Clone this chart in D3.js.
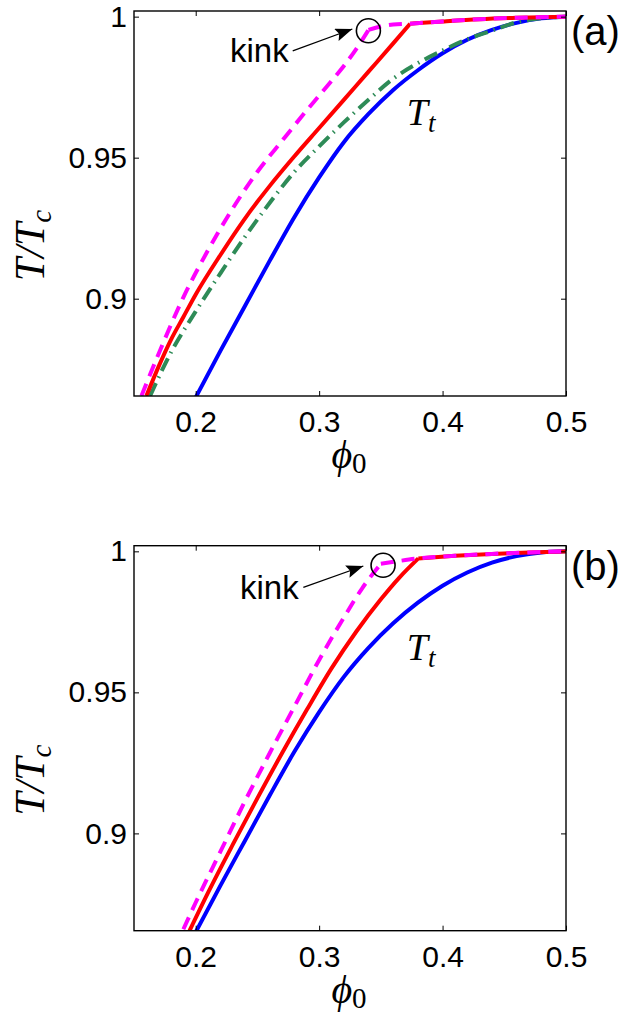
<!DOCTYPE html>
<html>
<head>
<meta charset="utf-8">
<script src="https://cdn.jsdelivr.net/npm/d3@7"></script>
<style>
body { margin: 0; background: #fff; }
</style>
</head>
<body>
<svg id="chart" width="641" height="1019"></svg>
<script>
// values, [phi0, T/Tc]
var blueA = [[0.20,0.865],[0.22,0.8815],[0.24,0.8975],[0.26,0.9135],[0.28,0.929],[0.30,0.943],[0.32,0.9555],[0.34,0.9655],[0.36,0.974],[0.38,0.981],[0.40,0.987],[0.42,0.9918],[0.44,0.9953],[0.46,0.9978],[0.48,0.9994],[0.50,1.0]];
var greenA = [[0.163,0.8655],[0.18,0.881],[0.20,0.8955],[0.22,0.909],[0.24,0.922],[0.26,0.934],[0.28,0.945],[0.30,0.954],[0.32,0.9625],[0.34,0.9705],[0.36,0.978],[0.38,0.9835],[0.40,0.988],[0.42,0.992],[0.44,0.995],[0.46,0.998],[0.48,0.9994],[0.50,1.0]];
var redA = [[0.16,0.8655],[0.17,0.876],[0.18,0.8855],[0.19,0.8935],[0.20,0.9015],[0.22,0.9155],[0.24,0.9285],[0.26,0.940],[0.28,0.9505],[0.30,0.9605],[0.32,0.9705],[0.34,0.9805],[0.36,0.9905],[0.3737,0.9975],[0.40,0.9983],[0.43,0.9991],[0.46,0.9996],[0.50,1.0]];
var magentaA = [[0.156,0.8655],[0.17,0.8805],[0.19,0.9005],[0.21,0.9172],[0.23,0.932],[0.25,0.945],[0.27,0.956],[0.29,0.9668],[0.30,0.972],[0.31,0.9772],[0.32,0.9825],[0.33,0.9885],[0.34,0.9953],[0.35,0.9965],[0.36,0.9972],[0.3737,0.9975],[0.40,0.9983],[0.43,0.9991],[0.46,0.9996],[0.50,1.0]];

var blueB = [[0.20,0.865],[0.22,0.8815],[0.24,0.8975],[0.26,0.9135],[0.28,0.929],[0.30,0.943],[0.32,0.9555],[0.34,0.9658],[0.36,0.9745],[0.38,0.9818],[0.40,0.9878],[0.42,0.9925],[0.44,0.996],[0.46,0.9983],[0.48,0.9996],[0.50,1.0]];
var redB = [[0.195,0.8655],[0.21,0.879],[0.23,0.896],[0.25,0.9125],[0.27,0.9285],[0.29,0.9438],[0.31,0.9585],[0.33,0.9715],[0.35,0.983],[0.365,0.9907],[0.3804,0.9975],[0.41,0.9984],[0.44,0.9991],[0.47,0.9996],[0.50,1.0]];
var magentaB = [[0.19,0.866],[0.20,0.8755],[0.22,0.8935],[0.24,0.9115],[0.26,0.9285],[0.28,0.945],[0.30,0.9615],[0.32,0.9765],[0.335,0.987],[0.35,0.9956],[0.365,0.9966],[0.3804,0.9975],[0.41,0.9984],[0.44,0.9991],[0.47,0.9996],[0.50,1.0]];

// phi0 where a curve has a sharp corner
var redCorner = [0.3737, 0.3804];
var magentaCorner = [0.34, 0.35];

// annotations per panel (a), (b)
var kinkCircle = [[0.3399,0.9950],[0.3518,0.99505]];
var kinkArrowFrom = [[0.2786,0.9879],[0.2872,0.98725]];
var kinkArrowTo = [[0.3269,0.99562],[0.3358,0.9948]];
var kinkText = [[0.2278,0.9839],[0.2359,0.9830]];
var ttLabel = [[0.371,0.9616],[0.371,0.9615]];
var panelLabels = ["(a)", "(b)"];

var xTicks = [0.2, 0.3, 0.4, 0.5];
var xTickLabels = ["0.2", "0.3", "0.4", "0.5"];
var yTicks = [0.9, 0.95, 1];
var yTickLabels = ["0.9", "0.95", "1"];

var xDomain = [0.15, 0.5];
var yDomain = [0.8655, 1.002];

var plotLeft = 134, plotRight = 566, plotHeight = 385;
var panelTops = [11, 545.7];
var sansFont = "'Liberation Sans', Arial, Helvetica, sans-serif";
var serifFont = "'Liberation Serif', 'Times New Roman', 'DejaVu Serif', serif";

var svg = d3.select("#chart");
var defs = svg.append("defs");
defs.append("marker")
    .attr("id", "arrowhead")
    .attr("markerUnits", "userSpaceOnUse")
    .attr("markerWidth", 18)
    .attr("markerHeight", 14)
    .attr("refX", 17)
    .attr("refY", 6.5)
    .attr("orient", "auto")
    .append("path")
    .attr("d", "M0,0 L17,6.5 L0,13 L3,6.5 Z")
    .attr("fill", "black");

// cut a curve at its corner so the smoothing keeps the corner sharp
function splitAt(data, corner) {
    if (corner == null) return [data];
    var left = data.filter((d) => d[0] <= corner);
    var right = data.filter((d) => d[0] >= corner);
    return [left, right];
}

function drawPanel(idx, series) {
    var top = panelTops[idx];
    var bottom = top + plotHeight;
    var x = d3.scaleLinear().domain(xDomain).range([plotLeft, plotRight]);
    var y = d3.scaleLinear().domain(yDomain).range([bottom, top]);
    var g = svg.append("g");

    defs.append("clipPath")
        .attr("id", "clip" + idx)
        .append("rect")
        .attr("x", plotLeft)
        .attr("y", top)
        .attr("width", plotRight - plotLeft)
        .attr("height", plotHeight);

    var line = d3.line()
        .x((d) => { return x(d[0]); })
        .y((d) => { return y(d[1]); })
        .curve(d3.curveMonotoneX);

    var curves = g.append("g").attr("clip-path", "url(#clip" + idx + ")");
    series.forEach((s) => {
        var d = splitAt(s.data, s.corner).map((p) => line(p)).join("");
        curves.append("path")
            .attr("d", d)
            .attr("fill", "none")
            .attr("stroke", s.color)
            .attr("stroke-width", 4)
            .attr("stroke-dasharray", s.dash || null);
    });

    // ticks point inward on all four sides
    var bottomAxis = g.append("g")
        .attr("transform", `translate(0,${bottom})`)
        .call(d3.axisBottom(x).tickValues(xTicks).tickSize(-5).tickPadding(15)
            .tickFormat((d, i) => xTickLabels[i]));
    var leftAxis = g.append("g")
        .attr("transform", `translate(${plotLeft},0)`)
        .call(d3.axisLeft(y).tickValues(yTicks).tickSize(-5).tickPadding(7)
            .tickFormat((d, i) => yTickLabels[i]));
    var topAxis = g.append("g")
        .attr("transform", `translate(0,${top})`)
        .call(d3.axisTop(x).tickValues(xTicks).tickSize(-5).tickFormat(""));
    var rightAxis = g.append("g")
        .attr("transform", `translate(${plotRight},0)`)
        .call(d3.axisRight(y).tickValues(yTicks).tickSize(-5).tickFormat(""));

    [bottomAxis, leftAxis, topAxis, rightAxis].forEach((a) => {
        a.select(".domain").remove();
        a.selectAll(".tick line").attr("stroke", "black").attr("stroke-width", 1);
        a.attr("font-size", 30).attr("font-family", sansFont);
        a.selectAll(".tick text").attr("fill", "black");
    });

    g.append("rect")
        .attr("x", plotLeft)
        .attr("y", top)
        .attr("width", plotRight - plotLeft)
        .attr("height", plotHeight)
        .attr("fill", "none")
        .attr("stroke", "black")
        .attr("stroke-width", 1.4);

    // kink annotation
    g.append("circle")
        .attr("cx", x(kinkCircle[idx][0]))
        .attr("cy", y(kinkCircle[idx][1]))
        .attr("r", 12)
        .attr("fill", "none")
        .attr("stroke", "black")
        .attr("stroke-width", 1.6);
    g.append("line")
        .attr("x1", x(kinkArrowFrom[idx][0]))
        .attr("y1", y(kinkArrowFrom[idx][1]))
        .attr("x2", x(kinkArrowTo[idx][0]))
        .attr("y2", y(kinkArrowTo[idx][1]))
        .attr("stroke", "black")
        .attr("stroke-width", 1.3)
        .attr("marker-end", "url(#arrowhead)");
    g.append("text")
        .attr("x", x(kinkText[idx][0]))
        .attr("y", y(kinkText[idx][1]))
        .attr("font-family", sansFont)
        .attr("font-size", 33)
        .text("kink");

    var tt = g.append("text")
        .attr("x", x(ttLabel[idx][0]))
        .attr("y", y(ttLabel[idx][1]))
        .attr("font-family", serifFont)
        .attr("font-style", "italic")
        .attr("font-size", 38);
    tt.append("tspan").text("T");
    tt.append("tspan").attr("font-size", 27).attr("dy", 7).text("t");

    g.append("text")
        .attr("x", 571)
        .attr("y", top + 34)
        .attr("font-family", sansFont)
        .attr("font-size", 40)
        .text(panelLabels[idx]);

    // axis titles
    var yl = g.append("text")
        .attr("transform", `translate(44,${top + plotHeight / 2 + 42}) rotate(-90)`)
        .attr("text-anchor", "middle")
        .attr("font-family", serifFont)
        .attr("font-style", "italic")
        .attr("font-size", 42);
    yl.append("tspan").text("T/T");
    yl.append("tspan").attr("font-size", 29).attr("dy", 7).text("c");

    var xl = g.append("text")
        .attr("x", 349)
        .attr("y", bottom + 72)
        .attr("text-anchor", "middle")
        .attr("font-family", serifFont)
        .attr("font-size", 40);
    xl.append("tspan").attr("font-style", "italic").text("\u03D5");
    xl.append("tspan").attr("font-size", 29).attr("dy", 5).text("0");
}

drawPanel(0, [
    {data: blueA, color: "#0000ff"},
    {data: greenA, color: "#2e8b57", dash: "14,6,1.5,6"},
    {data: redA, color: "#ff0000", corner: redCorner[0]},
    {data: magentaA, color: "#ff00ff", dash: "13,8", corner: magentaCorner[0]}
]);
drawPanel(1, [
    {data: blueB, color: "#0000ff"},
    {data: redB, color: "#ff0000", corner: redCorner[1]},
    {data: magentaB, color: "#ff00ff", dash: "13,8", corner: magentaCorner[1]}
]);
</script>
</body>
</html>
